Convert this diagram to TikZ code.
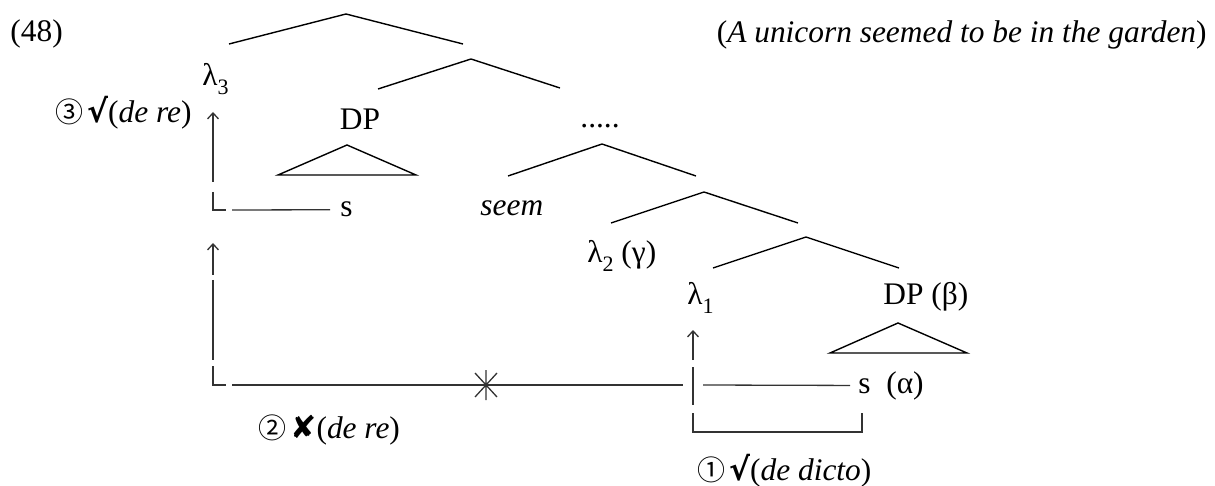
\documentclass[tikz,border=0pt]{standalone}
\usepackage{fontspec}
\setmainfont{Liberation Serif}
\newfontfamily\symf{DejaVu Sans}
\newfontfamily\cjk{Noto Sans CJK SC}
\usetikzlibrary{arrows.meta}
\tikzset{
  branch/.style={line width=0.7pt,line join=miter},
  trace/.style={line width=0.65pt,black!80},
  rise/.style={trace,-{Straight Barb[length=3pt,width=5.5pt]}},
  lbl/.style={inner sep=0pt,anchor=base west,font=\fontsize{15.7}{18}\selectfont},
}
\newcommand\okmark{{\symf\bfseries √}}
\newcommand\nomark{{\symf ✘}}
\newcommand\circd[1]{{\cjk\fontsize{14}{16}\selectfont #1}\kern-2pt\relax}
\newcommand\lsub[1]{\raisebox{-4.5pt}{\fontsize{11}{12}\selectfont #1}}
\begin{document}
\begin{tikzpicture}[x=0.5pt,y=-0.5pt]
	\useasboundingbox(0,0)rectangle(1215,486);
	% labels
	\node[lbl](num)at(10,42){(48)};
	\node[lbl,anchor=base east](gloss)at(1207,43){(\textit{A unicorn seemed to be in the garden})};
	\node[lbl](lamc)at(202,86){λ\lsub{3}};
	\node[lbl,anchor=base east](three)at(192,123){\circd{③} \okmark(\textit{de re})};
	\node[lbl,anchor=base](dpa)at(360,130){DP};
	\node[lbl](sa)at(340,217){s};
	\node[lbl](seem)at(480,216){\textit{seem}};
	\node[lbl](dots)at(580,128){.....};
	\node[lbl](lamb)at(587,263){λ\lsub{2} (γ)};
	\node[lbl](lama)at(687,305){λ\lsub{1}};
	\node[lbl](dpb)at(883,305){DP (β)};
	\node[lbl](sb)at(858,393){s\ \ (α)};
	\node[lbl](two)at(258,438){\circd{②} \nomark(\textit{de re})};
	\node[lbl](one)at(697,480){\circd{①} \okmark(\textit{de dicto})};
	% tree
	\coordinate(ta)at(346,14);
	\coordinate(tb)at(471,59);
	\coordinate(tc)at(602,144);
	\coordinate(td)at(704,192);
	\coordinate(te)at(806,237);
	\coordinate(ra)at(347,145);
	\coordinate(rb)at(898,323);
	\draw[branch](ta)+(-117,30)--(ta)--+(117,30);
	\draw[branch](tb)+(-93,30)--(tb)--+(89,29);
	\draw[branch](tc)+(-94,32)--(tc)--+(94,32);
	\draw[branch](td)+(-93,31)--(td)--+(94,31);
	\draw[branch](te)+(-93,31)--(te)--+(93,31);
	\draw[branch](ra)+(-69,30)--(ra)--+(69,30)--cycle;
	\draw[branch](rb)+(-68,30)--(rb)--+(69,30)--cycle;
	% movement paths
	\coordinate(ca)at(213,210);
	\coordinate(cb)at(213,385);
	\coordinate(cc)at(693,385);
	\coordinate(cd)at(693,432);
	\coordinate(ce)at(862,432);
	\coordinate(star)at(486,385);
	\draw[rise](ca)++(0,-28)--++(0,-70);
	\draw[trace](ca)++(0,-18)--(ca)--++(13,0);
	\draw[trace]([xshift=9.5pt]ca)--([xshift=-5pt]sa.west);
	\draw[rise](cb)++(0,-110)--++(0,-32);
	\draw[trace](cb)++(0,-105)--++(0,80);
	\draw[trace](cb)++(0,-19)--(cb)--++(13,0);
	\draw[trace]([xshift=9.5pt]cb)--([xshift=-5pt]cc);
	\draw[trace](star)++(0,-15)--++(0,30)(star)++(-11,-12)--++(22,24)(star)++(-11,12)--++(22,-24);
	\draw[trace]([xshift=5pt]cc)--([xshift=-4pt]sb.west);
	\draw[rise](cc)++(0,-25)--++(0,-30);
	\draw[trace](cc)++(0,-18)--++(0,38);
	\draw[trace](cd)++(0,-19)--(cd)--(ce)--++(0,-19);
\end{tikzpicture}
\end{document}
